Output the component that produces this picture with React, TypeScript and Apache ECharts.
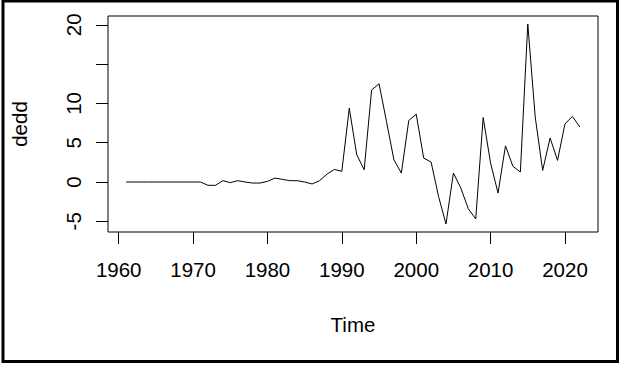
import React, { useEffect, useRef } from "react";
import * as echarts from "echarts";

const years: number[] = [];
for (let y = 1961; y <= 2022; y++) years.push(y);

const dedd: number[] = [
  0, 0, 0, 0, 0, 0, 0, 0, 0, 0, 0,
  -0.42, -0.42, 0.17, -0.08, 0.17, 0, -0.13, -0.13, 0.08,
  0.5, 0.34, 0.17, 0.17, 0, -0.25, 0.17, 1.0, 1.6, 1.36,
  9.4, 3.47, 1.56, 11.7, 12.5, 7.7, 2.83, 1.14, 7.83, 8.63,
  3.05, 2.54, -1.83, -5.34, 1.14, -0.77, -3.4, -4.7, 8.2, 2.4,
  -1.4, 4.6, 2.0, 1.27, 20.1, 8.26, 1.48, 5.6, 2.75, 7.4,
  8.34, 7.0,
];

const xTicks = [1960, 1970, 1980, 1990, 2000, 2010, 2020];
const yTicks = [-5, 0, 5, 10, 15, 20];
const yLabels = [-5, 0, 5, 10, 20];

const FONT = "'Liberation Sans', Arial, sans-serif";

export default function App() {
  const ref = useRef<HTMLDivElement>(null);
  useEffect(() => {
    if (!ref.current) return;
    const chart = echarts.init(ref.current, undefined, { renderer: "svg" });
    const xMin = 1961 - 0.04 * (2022 - 1961);
    const xMax = 2022 + 0.04 * (2022 - 1961);
    const dMin = Math.min(...dedd);
    const dMax = Math.max(...dedd);
    const yMin = dMin - 0.04 * (dMax - dMin);
    const yMax = dMax + 0.04 * (dMax - dMin);
    chart.setOption({
      animation: false,
      backgroundColor: "#ffffff",
      textStyle: { fontFamily: FONT },
      graphic: [
        {
          type: "rect",
          shape: { x: 3, y: 1, width: 614.5, height: 360.5 },
          style: { fill: "none", stroke: "#000", lineWidth: 3 },
          silent: true,
        },
      ],
      grid: {
        left: 108,
        top: 16,
        right: 24,
        bottom: 133,
        show: true,
        borderColor: "#000",
        borderWidth: 1,
        backgroundColor: "transparent",
      },
      xAxis: {
        type: "value",
        min: xMin,
        max: xMax,
        name: "Time",
        nameLocation: "middle",
        nameGap: 82,
        nameTextStyle: { fontSize: 20.5, color: "#000", fontFamily: FONT },
        axisLine: { show: false, onZero: false },
        splitLine: { show: false },
        axisTick: {
          show: true,
          inside: false,
          length: 12,
          customValues: xTicks,
          lineStyle: { color: "#000", width: 1 },
        },
        axisLabel: {
          customValues: xTicks,
          fontSize: 20.5,
          color: "#000",
          margin: 27,
          fontFamily: FONT,
          formatter: (v: number) => String(Math.round(v)),
        },
      },
      yAxis: {
        type: "value",
        min: yMin,
        max: yMax,
        name: "dedd",
        nameLocation: "middle",
        nameGap: 78,
        nameRotate: 90,
        nameTextStyle: { fontSize: 20.5, color: "#000", fontFamily: FONT },
        axisLine: { show: false, onZero: false },
        splitLine: { show: false },
        axisTick: {
          show: true,
          inside: false,
          length: 12,
          customValues: yTicks,
          lineStyle: { color: "#000", width: 1 },
        },
        axisLabel: {
          customValues: yLabels,
          rotate: 90,
          fontSize: 20.5,
          color: "#000",
          margin: 24,
          fontFamily: FONT,
          formatter: (v: number) => String(Math.round(v)),
        },
      },
      series: [
        {
          type: "line",
          data: years.map((y, i) => [y, dedd[i]]),
          showSymbol: false,
          symbol: "none",
          lineStyle: { color: "#000", width: 1 },
        },
      ],
    });
    return () => chart.dispose();
  }, []);
  return (
    <div
      ref={ref}
      style={{ position: "fixed", left: 0, top: 0, width: 622, height: 365, background: "#fff" }}
    />
  );
}
